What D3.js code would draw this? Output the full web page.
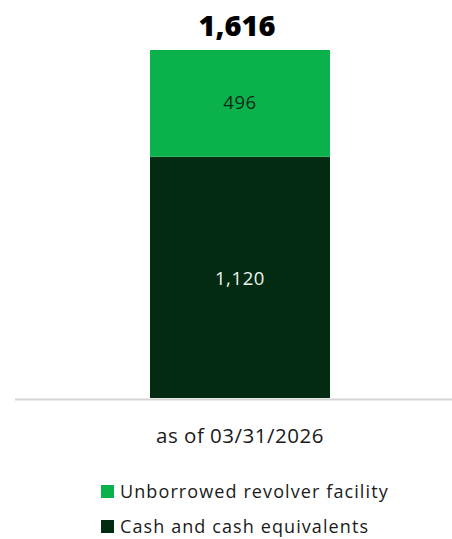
<!DOCTYPE html>
<html>
<head>
<meta charset="utf-8">
<script src="https://cdn.jsdelivr.net/npm/d3@7"></script>
<style>
  body { margin: 0; background: #fff; }
  svg { display: block; font-family: "Open Sans", sans-serif; }
</style>
</head>
<body>
<div id="chart"></div>
<script>
const categories = ["as of 03/31/2026"];
const seriesNames = ["Cash and cash equivalents", "Unborrowed revolver facility"];
const cashValues = [1120];
const revolverValues = [496];
const legendOrder = ["Unborrowed revolver facility", "Cash and cash equivalents"];

const width = 452, height = 539;
const colors = d3.scaleOrdinal()
  .domain(seriesNames)
  .range(["#022b12", "#0bb24c"]);

const rows = categories.map((c, i) => ({
  category: c,
  "Cash and cash equivalents": cashValues[i],
  "Unborrowed revolver facility": revolverValues[i]
}));

const stacked = d3.stack().keys(seriesNames)(rows);
const totals = rows.map(r => d3.sum(seriesNames, k => r[k]));

const svg = d3.select("#chart")
  .append("svg")
  .attr("width", width)
  .attr("height", height);

// single band, 180px wide, centred at 240
const x = d3.scaleBand()
  .domain(categories)
  .range([60, 420])
  .paddingInner(0)
  .paddingOuter(0.5);

const y = d3.scaleLinear()
  .domain([0, d3.max(totals)])
  .range([398, 50]);

// baseline
svg.append("line")
  .attr("x1", 15).attr("x2", width)
  .attr("y1", 399.5).attr("y2", 399.5)
  .attr("stroke", "#d6d6d6")
  .attr("stroke-width", 2);

const layers = svg.append("g").selectAll("g")
  .data(stacked)
  .join("g")
  .attr("fill", d => colors(d.key));

layers.selectAll("rect")
  .data(d => d.map(p => ({ key: d.key, p })))
  .join("rect")
  .attr("x", d => x(d.p.data.category))
  .attr("width", x.bandwidth())
  .attr("y", d => y(d.p[1]))
  .attr("height", d => y(d.p[0]) - y(d.p[1]));

// segment labels
layers.selectAll("text")
  .data(d => d.map(p => ({ key: d.key, p })))
  .join("text")
  .attr("x", d => x(d.p.data.category) + x.bandwidth() / 2)
  .attr("y", d => d.key === "Cash and cash equivalents"
      ? y(d.p[1]) + 122
      : (y(d.p[0]) + y(d.p[1])) / 2 - 1)
  .attr("dy", "0.35em")
  .attr("text-anchor", "middle")
  .attr("font-size", 18.5)
  .attr("letter-spacing", 0.6)
  .attr("fill", d => d.key === "Cash and cash equivalents" ? "#eef5ef" : "#0d2a17")
  .text(d => d3.format(",")(d.p[1] - d.p[0]));

// totals
svg.append("g").selectAll("text")
  .data(rows.map((r, i) => ({ category: r.category, total: totals[i] })))
  .join("text")
  .attr("x", d => x(d.category) + x.bandwidth() / 2 - 3)
  .attr("y", d => y(d.total) - 14)
  .attr("text-anchor", "middle")
  .attr("font-size", 29)
  .attr("font-weight", 800)
  .attr("fill", "#000")
  .text(d => d3.format(",")(d.total));

// category label
svg.append("g").selectAll("text")
  .data(categories)
  .join("text")
  .attr("x", d => x(d) + x.bandwidth() / 2)
  .attr("y", 443)
  .attr("text-anchor", "middle")
  .attr("font-size", 20.5)
  .attr("letter-spacing", 0.5)
  .attr("fill", "#1a1a1a")
  .text(d => d);

// legend
const legend = svg.append("g")
  .attr("transform", "translate(101, 491)");
const item = legend.selectAll("g")
  .data(legendOrder)
  .join("g")
  .attr("transform", (d, i) => `translate(0, ${i * 35})`);
item.append("rect")
  .attr("x", 0).attr("y", -6)
  .attr("width", 13).attr("height", 13)
  .attr("fill", d => colors(d));
item.append("text")
  .attr("x", 19)
  .attr("y", 1)
  .attr("dy", "0.35em")
  .attr("font-size", 18)
  .attr("letter-spacing", 1.1)
  .attr("fill", "#1a1a1a")
  .text(d => d);
</script>
</body>
</html>
